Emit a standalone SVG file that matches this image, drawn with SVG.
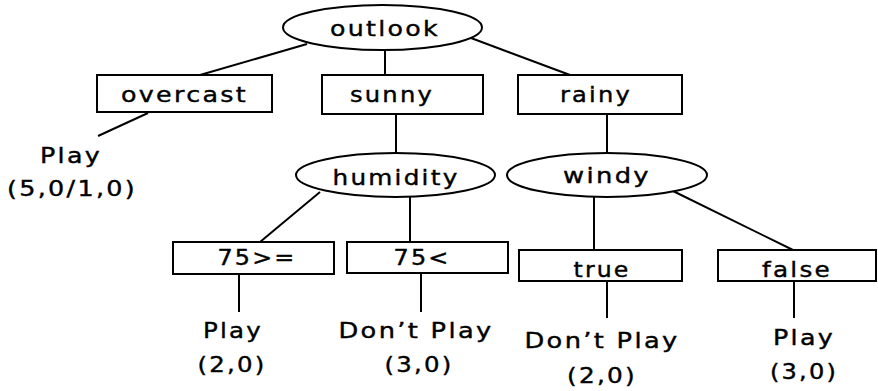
<svg xmlns="http://www.w3.org/2000/svg" width="878" height="391" viewBox="0 0 878 391">
<style>
  .shape { fill: #fff; stroke: #000; stroke-width: 2; }
  .conn line { stroke: #000; stroke-width: 2; }
  text { font-family: "DejaVu Sans", "Liberation Sans", sans-serif; font-size: 22px; letter-spacing: 2px; fill: #000; stroke: #000; stroke-width: 0.4; text-anchor: middle; }
</style>
<rect width="878" height="391" fill="#fff"/>
<g id="connectors" class="conn">
  <line x1="307" y1="44" x2="200" y2="75"/>
  <line x1="385" y1="49" x2="385" y2="75"/>
  <line x1="471" y1="38" x2="570" y2="75"/>
  <line x1="148" y1="113" x2="98" y2="136"/>
  <line x1="396" y1="114" x2="396" y2="153"/>
  <line x1="607" y1="114" x2="607" y2="153"/>
  <line x1="320" y1="192" x2="260" y2="242"/>
  <line x1="410" y1="197" x2="410" y2="242"/>
  <line x1="594" y1="197" x2="594" y2="250"/>
  <line x1="673" y1="191" x2="793" y2="250"/>
  <line x1="239" y1="274" x2="239" y2="312"/>
  <line x1="421" y1="273" x2="421" y2="312"/>
  <line x1="607" y1="281" x2="607" y2="318"/>
  <line x1="794" y1="281" x2="794" y2="318"/>
</g>
<g id="outlook">
  <ellipse class="shape" cx="382.5" cy="27.5" rx="99.5" ry="22.5"/>
  <text x="385" y="36" textLength="110" lengthAdjust="spacingAndGlyphs">outlook</text>
</g>
<g id="overcast">
  <rect class="shape" x="97" y="75" width="175" height="37"/>
  <text x="184.5" y="102" textLength="127" lengthAdjust="spacingAndGlyphs">overcast</text>
</g>
<g id="sunny">
  <rect class="shape" x="322" y="75" width="161" height="39"/>
  <text x="392" y="102" textLength="84" lengthAdjust="spacingAndGlyphs">sunny</text>
</g>
<g id="rainy">
  <rect class="shape" x="518" y="75" width="164" height="39"/>
  <text x="596" y="102" textLength="72" lengthAdjust="spacingAndGlyphs">rainy</text>
</g>
<g id="humidity">
  <ellipse class="shape" cx="395.5" cy="175" rx="99.5" ry="22"/>
  <text x="396" y="185" textLength="127" lengthAdjust="spacingAndGlyphs">humidity</text>
</g>
<g id="windy">
  <ellipse class="shape" cx="607" cy="175" rx="100" ry="22"/>
  <text x="607" y="183" textLength="88" lengthAdjust="spacingAndGlyphs">windy</text>
</g>
<g id="ge75">
  <rect class="shape" x="173" y="242" width="161" height="32"/>
  <text x="257" y="265" textLength="79" lengthAdjust="spacingAndGlyphs">75&gt;=</text>
</g>
<g id="lt75">
  <rect class="shape" x="347" y="242" width="161" height="31"/>
  <text x="422" y="265" textLength="57" lengthAdjust="spacingAndGlyphs">75&lt;</text>
</g>
<g id="true">
  <rect class="shape" x="519" y="250" width="163" height="31"/>
  <text x="602" y="277" textLength="57" lengthAdjust="spacingAndGlyphs">true</text>
</g>
<g id="false">
  <rect class="shape" x="718" y="250" width="158" height="31"/>
  <text x="797" y="277" textLength="70" lengthAdjust="spacingAndGlyphs">false</text>
</g>
<g id="leaf-overcast">
  <text x="71" y="163" textLength="62" lengthAdjust="spacingAndGlyphs">Play</text>
  <text x="72" y="196" textLength="130" lengthAdjust="spacingAndGlyphs">(5,0/1,0)</text>
</g>
<g id="leaf-ge75">
  <text x="233" y="338" textLength="60" lengthAdjust="spacingAndGlyphs">Play</text>
  <text x="232" y="372" textLength="69" lengthAdjust="spacingAndGlyphs">(2,0)</text>
</g>
<g id="leaf-lt75">
  <text x="416" y="338" textLength="155" lengthAdjust="spacingAndGlyphs">Don’t Play</text>
  <text x="419" y="372" textLength="69" lengthAdjust="spacingAndGlyphs">(3,0)</text>
</g>
<g id="leaf-true">
  <text x="602" y="348" textLength="155" lengthAdjust="spacingAndGlyphs">Don’t Play</text>
  <text x="602" y="383" textLength="70" lengthAdjust="spacingAndGlyphs">(2,0)</text>
</g>
<g id="leaf-false">
  <text x="804" y="345" textLength="62" lengthAdjust="spacingAndGlyphs">Play</text>
  <text x="804" y="379" textLength="68" lengthAdjust="spacingAndGlyphs">(3,0)</text>
</g>
</svg>
